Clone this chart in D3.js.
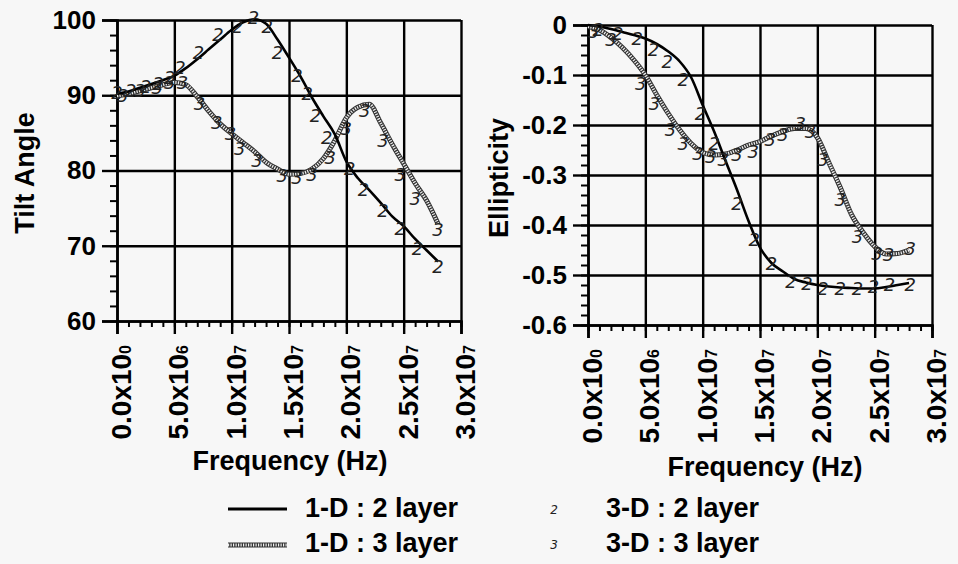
<!DOCTYPE html>
<html lang="en">
<head>
<meta charset="UTF-8">
<script src="https://d3js.org/d3.v7.min.js"></script>
<style>
  body { margin: 0; background: #f7f7f7; }
  text { font-family: "Liberation Sans", Arial, sans-serif; font-weight: bold; fill: #000; }
  .marker { font-family: "DejaVu Sans", sans-serif; font-weight: normal; font-style: italic; fill: #222; }
</style>
</head>
<body>
<div id="chart"></div>
<script>
    // frequency in units of 1e6 Hz
    const freq1D = [0,1,2,3,4,5,6,7,8,9,10,11,12,13,14,15,16,17,18,19,20,21,22,23,24,25,26,27,28];

    // ---- tilt angle ----
    const tilt1D2 = [90.2,90.5,91.0,91.5,92.0,92.6,93.6,94.8,96.1,97.4,98.7,99.7,100.1,99.5,97.4,95.0,92.5,89.7,87.2,84.8,81.2,79.0,77.4,75.7,73.9,72.6,70.9,69.4,67.9];
    const tilt1D3 = [89.9,90.2,90.6,91.0,91.4,91.7,91.4,89.8,87.9,86.2,84.9,83.7,82.5,81.1,80.2,79.5,79.6,80.2,81.6,84.0,87.0,88.4,88.8,86.3,83.5,80.9,78.3,76.0,72.9];
    const tilt3D2Freq = [0,1.2,2.5,3.6,4.6,5.5,7.1,8.8,10.5,11.9,13.1,14.0,15.7,16.6,17.3,18.3,20.3,21.5,23.2,24.7,26.2,28.0];
    const tilt3D2 = [90.3,90.6,91.2,91.6,92.3,93.6,95.7,98.0,99.1,100.3,99.1,95.6,92.6,90.2,87.3,84.3,80.3,77.5,74.6,72.2,69.6,67.2];
    const tilt3D3Freq = [0.5,2.0,3.5,4.6,5.7,7.2,8.7,9.9,10.7,12.2,14.4,15.7,17.0,18.6,20.0,21.6,23.2,24.7,26.0,28.0];
    const tilt3D3 = [90.0,90.6,91.0,91.7,91.7,88.9,86.4,84.9,82.9,81.3,79.3,79.0,79.5,81.7,85.5,88.0,84.0,79.5,76.3,72.1];

    // ---- ellipticity ----
    const ell1D2 = [0.0,-0.003,-0.008,-0.014,-0.02,-0.027,-0.038,-0.053,-0.073,-0.105,-0.16,-0.213,-0.272,-0.33,-0.392,-0.445,-0.476,-0.493,-0.508,-0.515,-0.52,-0.523,-0.525,-0.526,-0.527,-0.527,-0.524,-0.52,-0.516];
    const ell1D3 = [-0.003,-0.01,-0.025,-0.045,-0.07,-0.1,-0.14,-0.177,-0.21,-0.237,-0.255,-0.26,-0.258,-0.25,-0.24,-0.233,-0.222,-0.213,-0.207,-0.207,-0.225,-0.275,-0.325,-0.38,-0.415,-0.443,-0.458,-0.457,-0.45];
    const ell3D2Freq = [0.9,2.6,4.3,5.7,6.9,8.3,9.8,11.0,13.0,14.5,16.0,17.7,19.1,20.5,22.0,23.5,24.9,26.3,28.1];
    const ell3D2 = [-0.01,-0.017,-0.027,-0.05,-0.073,-0.11,-0.177,-0.237,-0.357,-0.43,-0.477,-0.513,-0.517,-0.527,-0.527,-0.527,-0.523,-0.52,-0.52];
    const ell3D3Freq = [0.5,2.0,4.6,5.8,7.2,8.3,9.6,10.7,11.8,13.0,14.4,15.9,17.0,18.5,19.4,20.5,22.0,23.5,25.2,26.2,28.1];
    const ell3D3 = [-0.013,-0.03,-0.117,-0.157,-0.21,-0.237,-0.257,-0.263,-0.27,-0.26,-0.253,-0.23,-0.22,-0.197,-0.213,-0.27,-0.35,-0.423,-0.457,-0.46,-0.447];

    // x tick labels (mantissa x 10^exp)
    const xTickVals = [0,5,10,15,20,25,30];
    const xTickMant = ["0.0","5.0","1.0","1.5","2.0","2.5","3.0"];
    const xTickExp = ["0","6","7","7","7","7","7"];

    const tiltTicks = [60,70,80,90,100];
    const ellTicks = [-0.6,-0.5,-0.4,-0.3,-0.2,-0.1,0];

    const legendLabels = ["1-D : 2 layer","1-D : 3 layer","3-D : 2 layer","3-D : 3 layer"];

    const FS = 27;

    const svg = d3.select("#chart").append("svg")
        .attr("width", 958)
        .attr("height", 564)
        .style("background", "#f7f7f7");

    // solid and hatched line styles
    const drawSolid = (g, d) => {
        g.append("path").attr("d", d)
            .attr("fill", "none").attr("stroke", "#000").attr("stroke-width", 2.6);
    };
    const drawHatched = (g, d) => {
        g.append("path").attr("d", d)
            .attr("fill", "none").attr("stroke", "#333").attr("stroke-width", 5);
        g.append("path").attr("d", d)
            .attr("fill", "none").attr("stroke", "#f0f0f0").attr("stroke-width", 3)
            .attr("stroke-dasharray", "1.2,1.3");
    };

    const drawPanel = (cfg) => {
        const g = svg.append("g");
        const x = d3.scaleLinear().domain([0, 30]).range([cfg.x0, cfg.x1]);
        const y = d3.scaleLinear().domain(cfg.yDomain).range([cfg.y0, cfg.y1]);

        // grid
        g.append("g")
            .attr("transform", `translate(0,${cfg.y0})`)
            .call(d3.axisBottom(x).tickValues(xTickVals).tickSize(-(cfg.y0 - cfg.y1)).tickFormat(""))
            .call(a => a.select(".domain").remove())
            .selectAll("line").attr("stroke", "#000").attr("stroke-width", 2.4);
        g.append("g")
            .attr("transform", `translate(${cfg.x0},0)`)
            .call(d3.axisLeft(y).tickValues(cfg.yTicks).tickSize(-(cfg.x1 - cfg.x0)).tickFormat(""))
            .call(a => a.select(".domain").remove())
            .selectAll("line").attr("stroke", "#000").attr("stroke-width", 2.4);

        // y minor + major ticks
        g.append("g")
            .attr("transform", `translate(${cfg.x0},0)`)
            .call(d3.axisLeft(y).tickValues(cfg.yMinor).tickSize(7).tickFormat(""))
            .call(a => a.select(".domain").remove())
            .selectAll("line").attr("stroke", "#000").attr("stroke-width", 2);
        const yAx = g.append("g")
            .attr("transform", `translate(${cfg.x0},0)`)
            .call(d3.axisLeft(y).tickValues(cfg.yTicks).tickSize(15).tickPadding(6).tickFormat(cfg.yFmt));
        yAx.select(".domain").attr("stroke", "#000").attr("stroke-width", 2.6);
        yAx.selectAll("line").attr("stroke", "#000").attr("stroke-width", 2.4);
        yAx.selectAll("text").attr("font-size", 26).attr("fill", "#000")
            .attr("font-family", "Liberation Sans, Arial, sans-serif").attr("font-weight", "bold");

        // x minor + major ticks
        g.append("g")
            .attr("transform", `translate(0,${cfg.y0})`)
            .call(d3.axisBottom(x).tickValues(d3.range(0, 31, 1)).tickSize(6).tickFormat(""))
            .call(a => a.select(".domain").remove())
            .selectAll("line").attr("stroke", "#000").attr("stroke-width", 2);
        const xAx = g.append("g")
            .attr("transform", `translate(0,${cfg.y0})`)
            .call(d3.axisBottom(x).tickValues(xTickVals).tickSize(13).tickFormat(""));
        xAx.select(".domain").attr("stroke", "#000").attr("stroke-width", 2.6);
        xAx.selectAll("line").attr("stroke", "#000").attr("stroke-width", 2.4);

        // rotated x tick labels
        xTickVals.forEach((v, i) => {
            const t = g.append("text")
                .attr("transform", `translate(${x(v) + 4},${cfg.y0 + 24}) rotate(-90)`)
                .attr("text-anchor", "end")
                .attr("dy", "0.36em")
                .attr("font-size", 28);
            t.append("tspan").text(xTickMant[i] + "x10");
            t.append("tspan").attr("font-size", 16).text(xTickExp[i]);
        });

        // axis titles
        g.append("text")
            .attr("x", (cfg.x0 + cfg.x1) / 2 + cfg.xTitleShift)
            .attr("y", cfg.xTitleY)
            .attr("text-anchor", "middle")
            .attr("font-size", FS)
            .text("Frequency (Hz)");
        g.append("text")
            .attr("transform", `translate(${cfg.yTitleX},${cfg.yTitleY}) rotate(-90)`)
            .attr("text-anchor", "middle")
            .attr("font-size", FS)
            .text(cfg.yTitle);

        // curves
        const line = (vals) => d3.line()
            .x((d, i) => x(freq1D[i]))
            .y(d => y(d))
            .curve(d3.curveMonotoneX)(vals);
        drawHatched(g, line(cfg.d1D3));
        drawSolid(g, line(cfg.d1D2));

        // 3-D markers
        const mk = (fs, vs, label) => {
            g.selectAll(null)
                .data(vs)
                .enter()
                .append("text")
                .attr("class", "marker")
                .attr("x", (d, i) => x(fs[i]))
                .attr("y", d => y(d))
                .attr("dy", "0.35em")
                .attr("text-anchor", "middle")
                .attr("font-size", 18)
                .text(label);
        };
        mk(cfg.f3D2, cfg.d3D2, "2");
        mk(cfg.f3D3, cfg.d3D3, "3");
    };

    drawPanel({
        x0: 117, x1: 461, y0: 321, y1: 20,
        yDomain: [60, 100], yTicks: tiltTicks, yMinor: d3.range(60, 100.1, 2),
        yFmt: d => d,
        yTitle: "Tilt Angle", yTitleX: 34, yTitleY: 173,
        xTitleY: 470, xTitleShift: 1,
        d1D2: tilt1D2, d1D3: tilt1D3,
        f3D2: tilt3D2Freq, d3D2: tilt3D2, f3D3: tilt3D3Freq, d3D3: tilt3D3
    });

    drawPanel({
        x0: 588, x1: 932, y0: 325, y1: 25,
        yDomain: [-0.6, 0], yTicks: ellTicks, yMinor: d3.range(-0.6, 0.001, 0.02),
        yFmt: d => (d === 0 ? "0" : d3.format(".1f")(d).replace("−", "-")),
        yTitle: "Ellipticity", yTitleX: 508, yTitleY: 178,
        xTitleY: 476, xTitleShift: 5,
        d1D2: ell1D2, d1D3: ell1D3,
        f3D2: ell3D2Freq, d3D2: ell3D2, f3D3: ell3D3Freq, d3D3: ell3D3
    });

    // legend
    const leg = svg.append("g");
    const rowY = [507, 542];
    leg.append("line").attr("x1", 228).attr("x2", 287).attr("y1", rowY[0] + 2).attr("y2", rowY[0] + 2)
        .attr("stroke", "#000").attr("stroke-width", 3);
    drawHatched(leg, `M228,${rowY[1] + 3}H287`);
    leg.append("text").attr("class", "marker").attr("x", 554).attr("y", rowY[0] + 3).attr("dy", "0.35em")
        .attr("text-anchor", "middle").attr("font-size", 12).text("2");
    leg.append("text").attr("class", "marker").attr("x", 554).attr("y", rowY[1] + 3).attr("dy", "0.35em")
        .attr("text-anchor", "middle").attr("font-size", 12).text("3");
    [[305, rowY[0]], [305, rowY[1]], [606, rowY[0]], [606, rowY[1]]].forEach((p, i) => {
        leg.append("text").attr("x", p[0]).attr("y", p[1]).attr("dy", "0.36em")
            .attr("font-size", FS).text(legendLabels[i]);
    });
</script>
</body>
</html>
